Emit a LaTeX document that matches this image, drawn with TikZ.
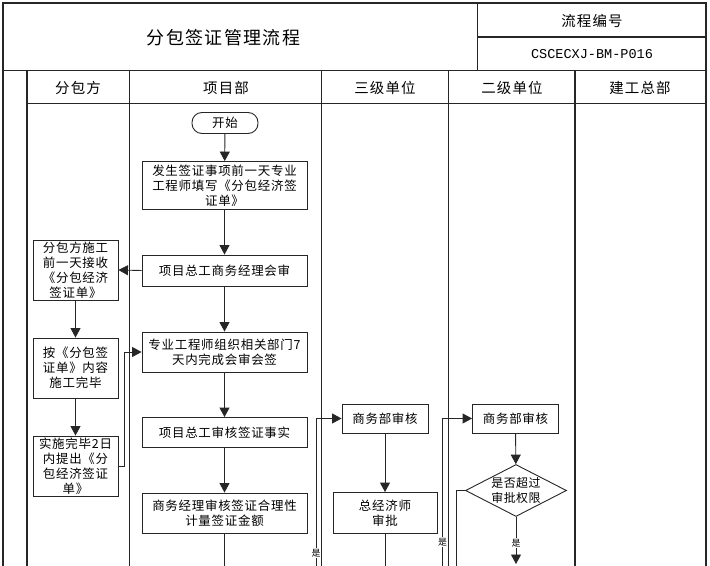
\documentclass[tikz,border=0pt]{standalone}
\usepackage{fontspec}
\setmainfont{Noto Sans CJK SC}
\newfontfamily\monof{Liberation Mono}
\usetikzlibrary{shapes.geometric,arrows.meta}
\begin{document}
\begin{tikzpicture}[x=1bp,y=-1bp,
  frameline/.style={line width=1.3pt, draw=black!85},
  box/.style={draw=black!85, line width=0.9pt, align=center, inner sep=1pt,
    font=\fontsize{12.5}{15}\selectfont\addfontfeatures{LetterSpace=6}},
  wbox/.style={box, minimum width=165bp},
  lbox/.style={box, minimum width=85bp, minimum height=60bp},
  sbox/.style={box, minimum width=86bp, minimum height=29bp},
  hdr/.style={font=\fontsize{14.5}{16}\selectfont\addfontfeatures{LetterSpace=8}, inner sep=0pt},
  arr/.style={-{Triangle[length=9.5bp,width=10bp]}, line width=0.9pt, draw=black!85},
  lnk/.style={line width=0.9pt, draw=black!85},
  yes/.style={font=\fontsize{9}{10}\selectfont, fill=white, inner sep=0.6pt}
]
\useasboundingbox (0,0) rectangle (710,566);
\fill[white] (0,0) rectangle (710,566);

% table frame
\draw[frameline] (3,566) -- (3,3) -- (706,3) -- (706,566);
\draw[frameline] (3,70.5) -- (706,70.5);
\draw[frameline] (477.5,3) -- (477.5,70.5);
\draw[frameline] (477.5,37) -- (706,37);
\draw[frameline] (27,70.5) -- (27,566);
\draw[frameline] (27,103.5) -- (706,103.5);
\foreach \xx in {129.5,321.5,448.5,575} \draw[frameline] (\xx,70.5) -- (\xx,566);

% header texts
\node[font=\fontsize{18}{20}\selectfont\addfontfeatures{LetterSpace=8}, inner sep=0pt] (title) at (223.5,38) {分包签证管理流程};
\node[hdr] (code) at (592,21) {流程编号};
\node[font=\monof\fontsize{13.6}{15}\selectfont, inner sep=0pt] (codev) at (592,54.5) {CSCECXJ-BM-P016};
\node[hdr] (h1) at (78,88) {分包方};
\node[hdr] (h2) at (226,88) {项目部};
\node[hdr] (h3) at (385,88) {三级单位};
\node[hdr] (h4) at (512,88) {二级单位};
\node[hdr] (h5) at (640,88) {建工总部};

% project department column
\node[box, rounded corners=10bp, minimum width=66bp, minimum height=21bp] (st) at (225,123) {开始};
\node[wbox, minimum height=48bp] (b1) at (224.5,185.5) {发生签证事项前一天专业\\工程师填写《分包经济签\\证单》};
\node[wbox, minimum height=31bp] (b2) at (224.5,270.5) {项目总工商务经理会审};
\node[wbox, minimum height=40bp] (b3) at (224.5,352) {专业工程师组织相关部门7\\天内完成会审会签};
\node[wbox, minimum height=30bp] (b4) at (224.5,432.5) {项目总工审核签证事实};
\node[wbox, minimum height=40bp] (b5) at (224.5,513) {商务经理审核签证合理性\\计量签证金额};

% subcontractor column
\node[lbox] (l1) at (75.5,270) {分包方施工\\前一天接收\\《分包经济\\签证单》};
\node[lbox] (l2) at (75.5,368) {按《分包签\\证单》内容\\施工完毕};
\node[lbox] (l3) at (75.5,466) {实施完毕2日\\内提出《分\\包经济签证\\单》};

% third-level unit
\node[sbox] (s1) at (385,418.5) {商务部审核};
\node[box, minimum width=104bp, minimum height=41bp] (s2) at (385,513) {总经济师\\审批};

% second-level unit
\node[sbox] (e1) at (515.5,418.5) {商务部审核};
\node[box, diamond, aspect=2, inner sep=0pt, minimum width=101bp, minimum height=52bp,
  font=\fontsize{12}{14.5}\selectfont\addfontfeatures{LetterSpace=4}] (d1) at (516,490.5) {是否超过\\审批权限};

% free ends
\coordinate (e5) at (224.5,566);
\coordinate (c1) at (316,566);
\coordinate (es2) at (385,566);
\coordinate (c2) at (442.5,566);
\coordinate (dk) at (456,490.5);
\coordinate (dkb) at (456,566);
\coordinate (dd) at (516,564);

% connectors
\draw[arr] (st) -- (b1);
\draw[arr] (b1) -- (b2);
\draw[arr] (b2) -- (b3);
\draw[arr] (b3) -- (b4);
\draw[arr] (b4) -- (b5);
\draw[lnk] (b5) -- (e5);
\draw[arr] (b2.west) -- (l1.east);
\draw[arr] (l1) -- (l2);
\draw[arr] (l2) -- (l3);
\draw[arr] (l3.east) -- ++(5.5,0) |- (b3.west);

\draw[arr] (c1) |- (s1.west);
\node[yes] (y1) at (316,553) {是};
\draw[arr] (s1) -- (s2);
\draw[lnk] (s2) -- (es2);

\draw[arr] (c2) |- (e1.west);
\node[yes] (y2) at (442.5,542) {是};
\draw[arr] (e1) -- (d1);
\draw[lnk] (d1.west) -- (dk) -- (dkb);
\draw[arr] (d1.south) -- (dd);
\node[yes] (y3) at (516,543) {是};
\end{tikzpicture}
\end{document}
